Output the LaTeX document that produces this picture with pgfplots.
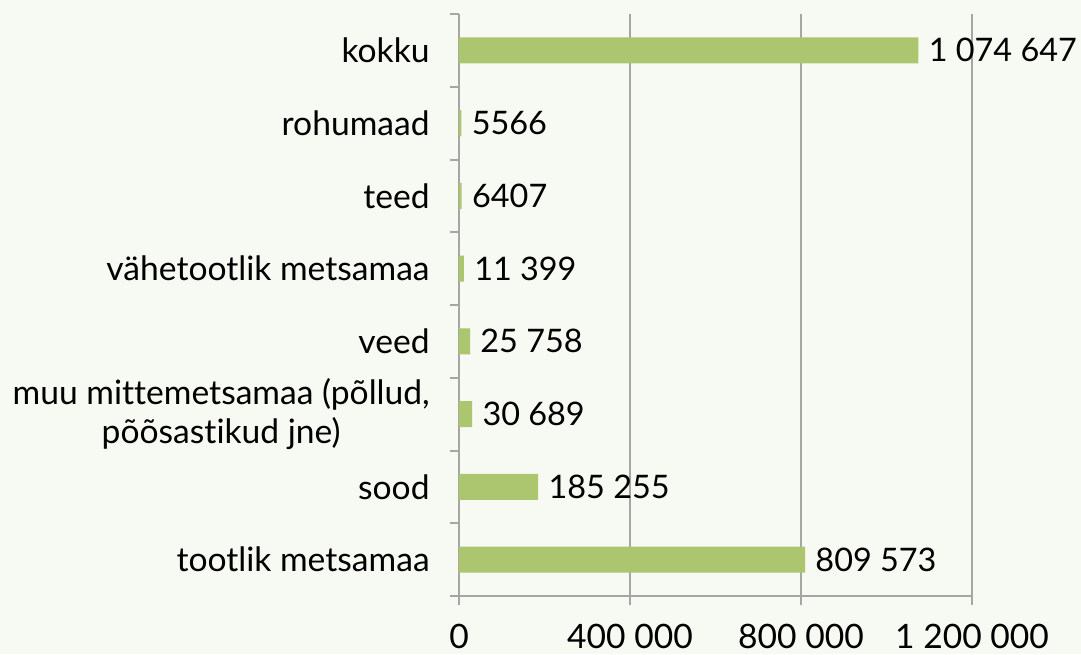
\documentclass[border=0pt]{standalone}
\usepackage{fontspec}
\setmainfont{Lato}[Ligatures=NoCommon]
\usepackage{pgfplots}
\pgfplotsset{compat=1.18}
\definecolor{bg}{RGB}{247,249,243}
\definecolor{barc}{RGB}{171,198,110}
\definecolor{gridc}{RGB}{166,166,166}

\begin{document}
\fontsize{16.8pt}{19.5pt}\selectfont
\begin{tikzpicture}
\fill[bg] (-229.5pt,-29pt) rectangle (311pt,298pt);
\begin{axis}[
  at={(0,0)}, anchor=south west,
  scale only axis, width=256.5pt, height=291pt,
  xbar, bar width=13pt,
  xmin=0, xmax=1200000, ymin=-0.5, ymax=7.5,
  xtick={0,400000,800000,1200000},
  xticklabels={0, 400 000, 800 000, 1 200 000},
  scaled x ticks=false,
  xticklabel style={inner sep=0pt, yshift=-9.5pt},
  ytick={0,...,7},
  yticklabels={tootlik metsamaa, sood,
    {muu mittemetsamaa (põllud,\\põõsastikud jne)},
    veed, vähetootlik metsamaa, teed, rohumaad, kokku},
  yticklabel style={align=center, inner sep=0pt, xshift=-10pt},
  minor ytick={-0.5,0.5,...,7.5},
  major y tick style={draw=none},
  axis lines*=left,
  axis line style={gridc, line width=1pt},
  tick align=outside,
  tick style={gridc, line width=1pt},
  major tick length=4.5pt, minor tick length=4.5pt,
  xmajorgrids, grid style={gridc, line width=0.8pt},
  nodes near coords, point meta=explicit symbolic,
  every node near coord/.append style={anchor=west, inner sep=0pt, xshift=5pt, black,
    font=\fontsize{16.2pt}{19pt}\selectfont},
  clip=false,
]
\addplot[fill=barc, draw=none] coordinates {
  (809573,0) [809 573]
  (185255,1) [185 255]
  (30689,2) [30 689]
  (25758,3) [25 758]
  (11399,4) [11 399]
  (6407,5) [6407]
  (5566,6) [5566]
  (1074647,7) [1 074 647]
};
\end{axis}
\pgfresetboundingbox
\path[use as bounding box] (-229.5pt,-29pt) rectangle (311pt,298pt);
\end{tikzpicture}
\end{document}
